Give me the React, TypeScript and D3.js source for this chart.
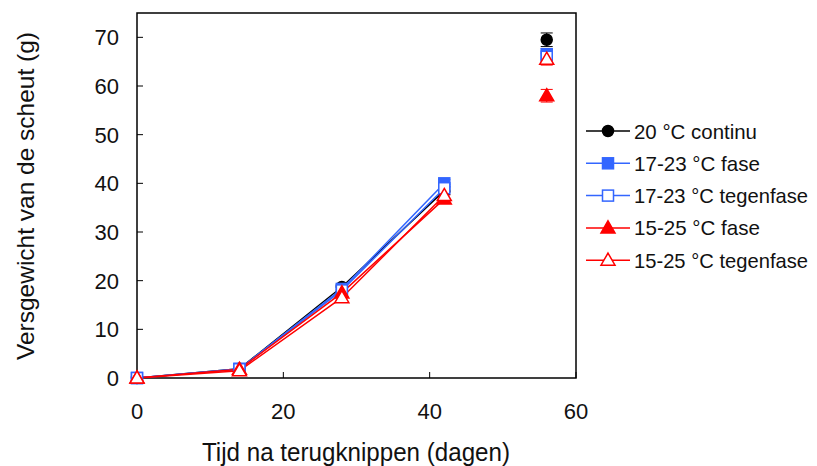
import React, { useEffect, useRef } from 'react';
import * as d3 from 'd3';

const days = [0, 14, 28, 42, 56];
const seriesNames = ['20 °C continu', '17-23 °C fase', '17-23 °C tegenfase', '15-25 °C fase', '15-25 °C tegenfase'];
const seriesColors = ['#000000', '#3366ff', '#3366ff', '#ff0000', '#ff0000'];
const seriesShapes = ['circle', 'square', 'square', 'triangle', 'triangle'];
const seriesFilled = [true, true, false, true, false];
const continuo = [0, 1.9, 18.7, 38.5, 69.5];
const fase1723 = [0, 1.9, 18.3, 40.0, 66.5];
const tegen1723 = [0, 1.8, 18.0, 39.0, 66.0];
const fase1525 = [0, 1.8, 17.5, 36.8, 58.0];
const tegen1525 = [0, 1.5, 16.5, 37.5, 65.5];
const errors = [
  [0, 0.3, 0.6, 0.8, 1.4],
  [0, 0.3, 0.6, 0.8, 1.2],
  [0, 0.3, 0.6, 0.8, 1.2],
  [0, 0.3, 0.6, 0.8, 1.3],
  [0, 0.3, 0.6, 0.8, 1.2],
];
const xTicks = [0, 20, 40, 60];
const yTicks = [0, 10, 20, 30, 40, 50, 60, 70];
const xLabel = 'Tijd na terugknippen (dagen)';
const yLabel = 'Versgewicht van de scheut (g)';

const FONT = '"Liberation Sans", Arial, sans-serif';

const App = () => {
  const svgRef = useRef<SVGSVGElement>(null);

  useEffect(() => {
    const allValues = [continuo, fase1723, tegen1723, fase1525, tegen1525];
    const svg = d3.select(svgRef.current);
    svg.selectAll('*').remove();

    const x = d3.scaleLinear().domain([0, 60]).range([137, 576]);
    const y = d3.scaleLinear().domain([0, 75]).range([378, 13]);

    // frame
    svg.append('rect')
      .attr('x', x(0)).attr('y', y(75))
      .attr('width', x(60) - x(0)).attr('height', y(0) - y(75))
      .attr('fill', 'none').attr('stroke', '#000').attr('stroke-width', 1.5);

    // ticks point inward
    const g = svg.append('g');
    xTicks.forEach(t => {
      g.append('line').attr('x1', x(t)).attr('x2', x(t)).attr('y1', y(0)).attr('y2', y(0) - 6)
        .attr('stroke', '#000').attr('stroke-width', 1);
      g.append('text').attr('x', x(t)).attr('y', 419).attr('text-anchor', 'middle')
        .attr('font-family', FONT).attr('font-size', 22).attr('fill', '#111').text(t);
    });
    yTicks.forEach(t => {
      g.append('line').attr('x1', x(0)).attr('x2', x(0) + 6).attr('y1', y(t)).attr('y2', y(t))
        .attr('stroke', '#000').attr('stroke-width', 1);
      g.append('text').attr('x', 119).attr('y', y(t)).attr('dy', '0.36em').attr('text-anchor', 'end')
        .attr('font-family', FONT).attr('font-size', 22).attr('fill', '#111').text(t);
    });

    svg.append('text').attr('x', 202).attr('y', 461)
      .attr('textLength', 308).attr('lengthAdjust', 'spacingAndGlyphs')
      .attr('font-family', FONT).attr('font-size', 26).attr('fill', '#111').text(xLabel);
    svg.append('text').attr('transform', `translate(34,360) rotate(-90)`)
      .attr('textLength', 328).attr('lengthAdjust', 'spacingAndGlyphs')
      .attr('font-family', FONT).attr('font-size', 24).attr('fill', '#111').text(yLabel);

    const drawMarker = (sel, i, cx, cy) => {
      const col = seriesColors[i];
      const fill = seriesFilled[i] ? col : '#fff';
      if (seriesShapes[i] === 'circle') {
        sel.append('circle').attr('cx', cx).attr('cy', cy).attr('r', 5.5).attr('fill', fill).attr('stroke', col).attr('stroke-width', 1.5);
      } else if (seriesShapes[i] === 'square') {
        sel.append('rect').attr('x', cx - 5.5).attr('y', cy - 5.5).attr('width', 11).attr('height', 11)
          .attr('fill', fill).attr('stroke', col).attr('stroke-width', 1.5);
      } else {
        const sym = d3.symbol().type(d3.symbolTriangle).size(85);
        sel.append('path').attr('d', sym()).attr('transform', `translate(${cx},${cy + 1})`)
          .attr('fill', fill).attr('stroke', col).attr('stroke-width', 1.5);
      }
    };

    const line = d3.line<number>().x((d, j) => x(days[j])).y(d => y(d));

    allValues.forEach((vals, i) => {
      const sg = svg.append('g');
      sg.append('path').datum(vals.slice(0, 4)).attr('d', line)
        .attr('fill', 'none').attr('stroke', seriesColors[i]).attr('stroke-width', 1.5);
      vals.forEach((v, j) => {
        const e = errors[i][j];
        if (e > 0.5) {
          sg.append('line').attr('x1', x(days[j])).attr('x2', x(days[j])).attr('y1', y(v - e)).attr('y2', y(v + e))
            .attr('stroke', seriesColors[i]).attr('stroke-width', 1);
          [v - e, v + e].forEach(ev => sg.append('line').attr('x1', x(days[j]) - 6).attr('x2', x(days[j]) + 6)
            .attr('y1', y(ev)).attr('y2', y(ev)).attr('stroke', seriesColors[i]).attr('stroke-width', 1));
        }
      });
    });
    allValues.forEach((vals, i) => {
      vals.forEach((v, j) => drawMarker(svg, i, x(days[j]), y(v)));
    });

    // legend
    const legendWidths = [123, 126, 174, 126, 174];
    const lg = svg.append('g');
    seriesNames.forEach((name, i) => {
      const ly = 131 + i * 32.3;
      lg.append('line').attr('x1', 586).attr('x2', 630).attr('y1', ly).attr('y2', ly)
        .attr('stroke', seriesColors[i]).attr('stroke-width', 1.5);
      drawMarker(lg, i, 608, ly);
      lg.append('text').attr('x', 634).attr('y', ly).attr('dy', '0.36em')
        .attr('textLength', legendWidths[i]).attr('lengthAdjust', 'spacingAndGlyphs')
        .attr('font-family', FONT).attr('font-size', 21).attr('fill', '#111').text(name);
    });
  }, []);

  return <svg ref={svgRef} width={817} height={466} style={{ display: 'block', position: 'absolute', left: 0, top: 0 }} />;
};

export default App;
